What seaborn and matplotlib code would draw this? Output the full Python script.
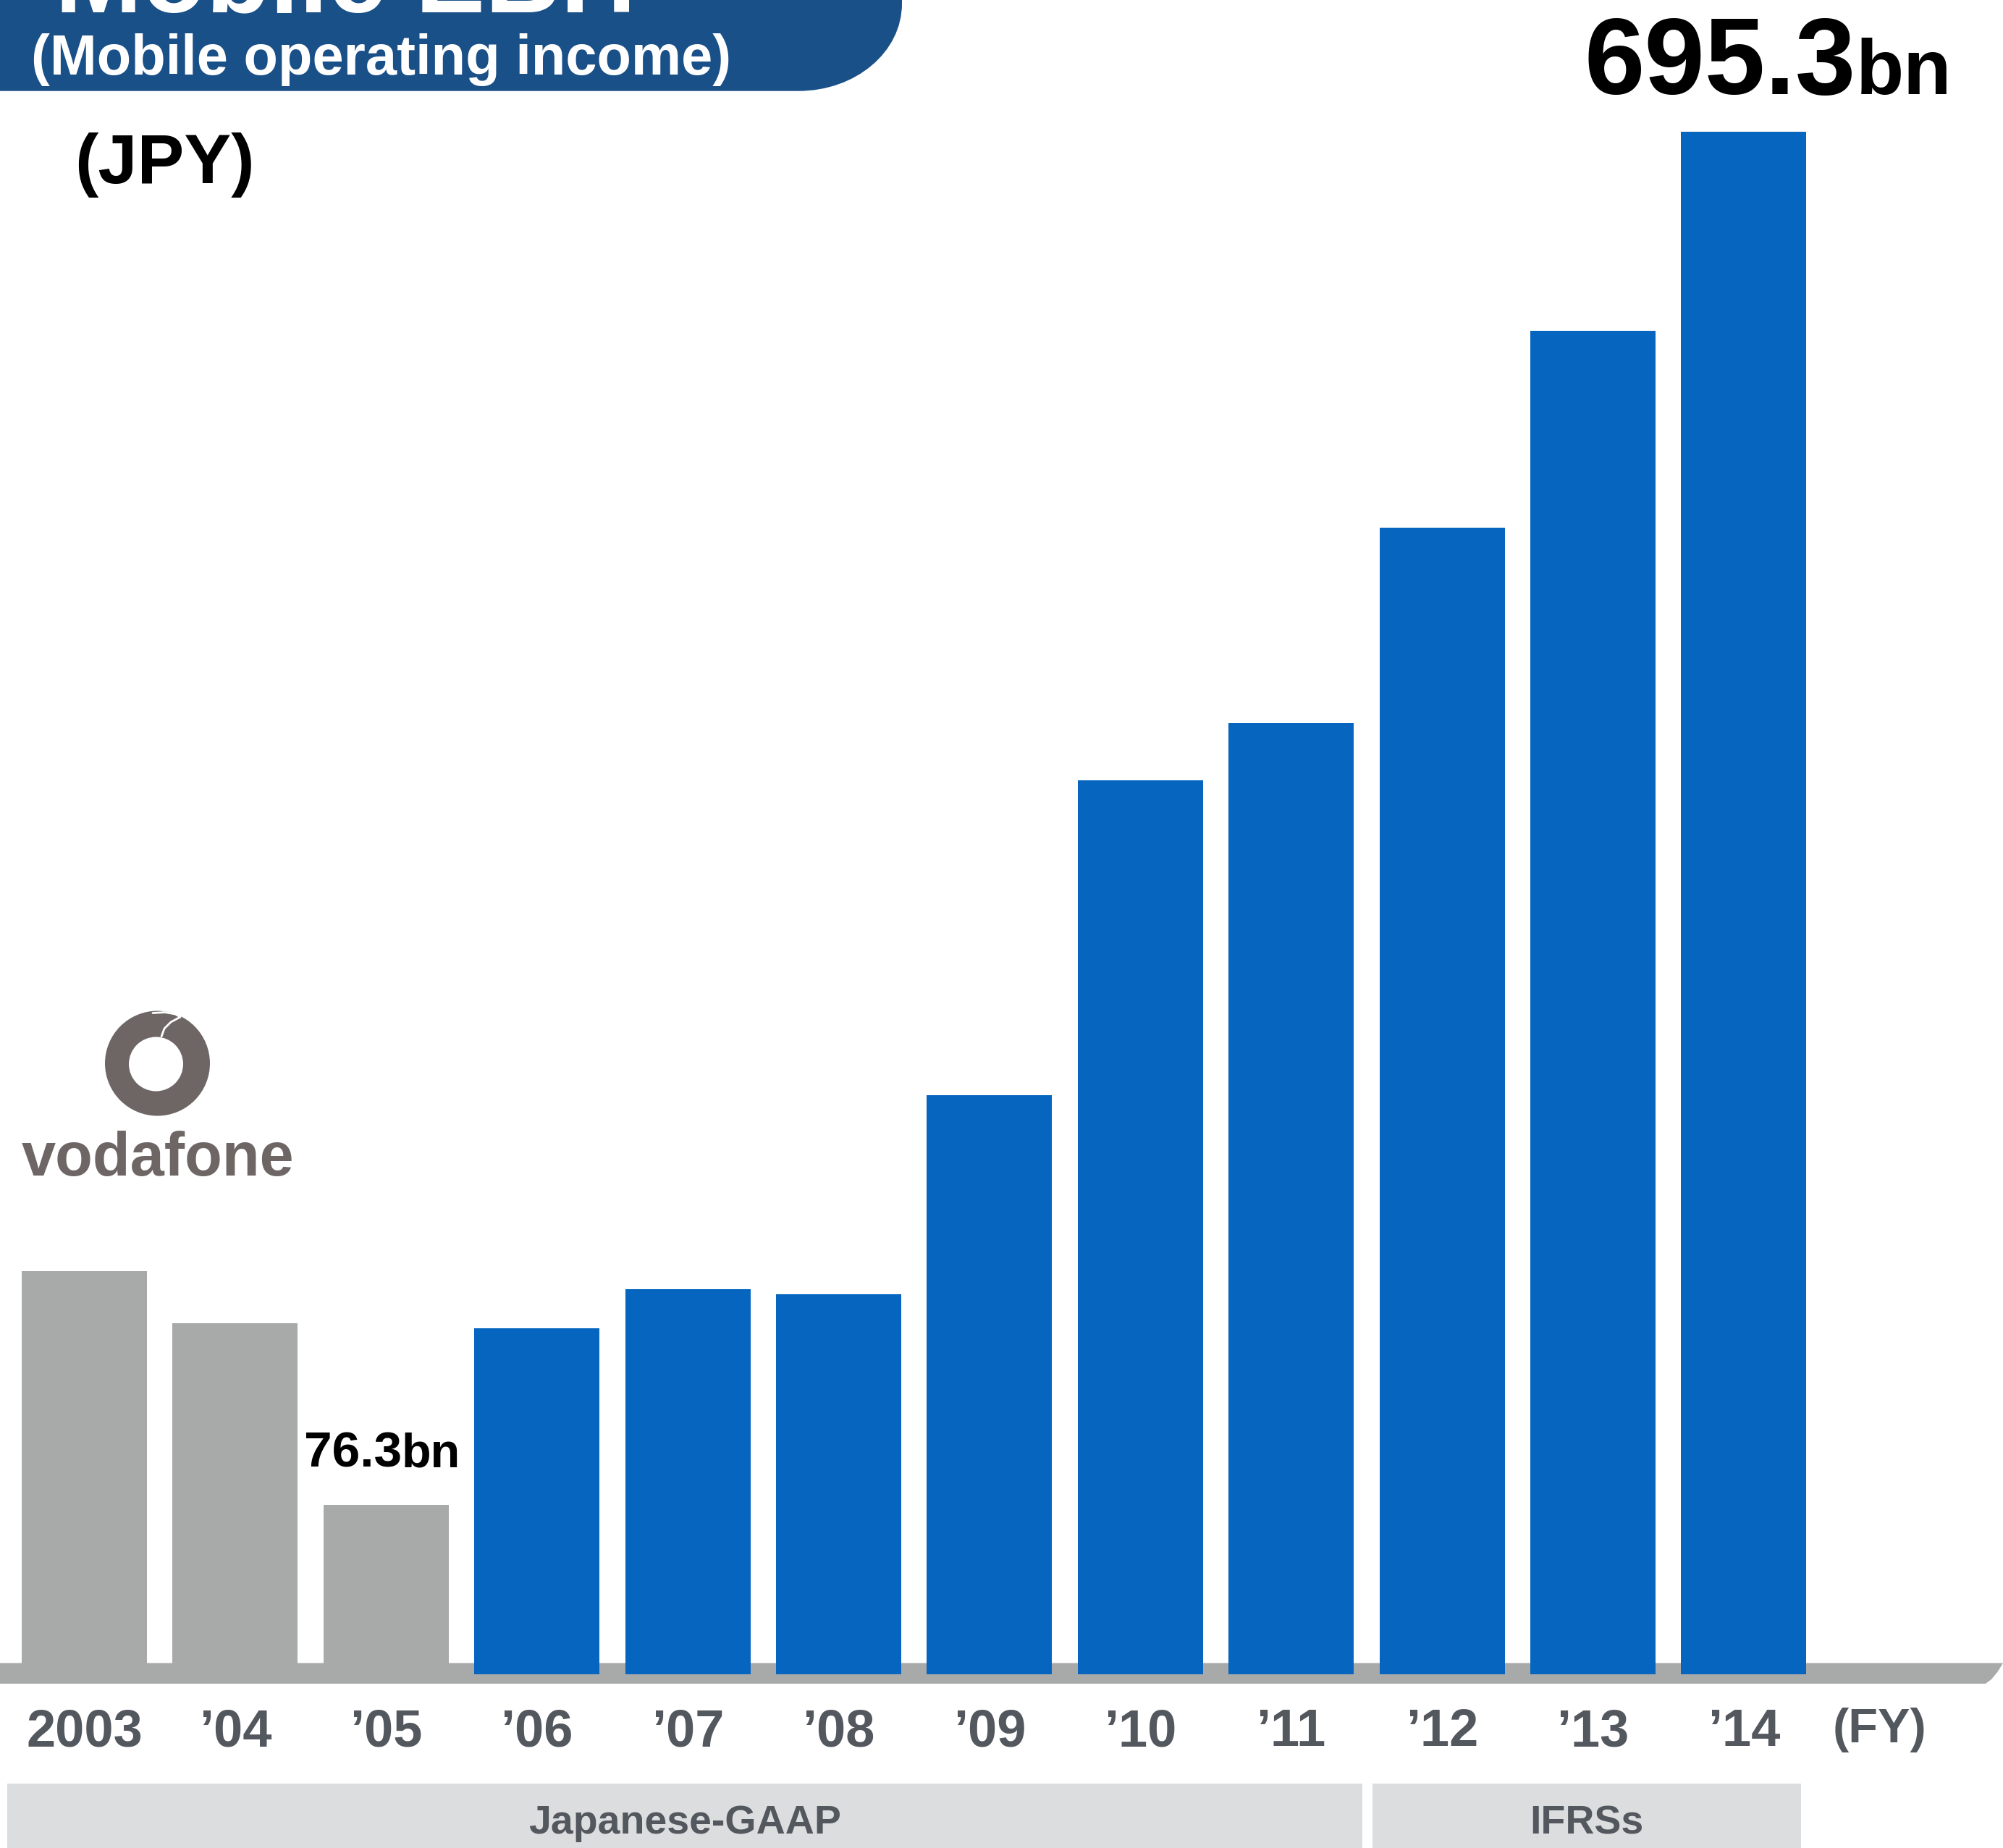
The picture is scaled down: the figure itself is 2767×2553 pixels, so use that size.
import matplotlib
matplotlib.use("Agg")
import matplotlib.pyplot as plt
import seaborn as sns
import pandas as pd
from matplotlib.patches import Rectangle, Circle, Polygon, PathPatch
from matplotlib.path import Path
from matplotlib.transforms import Affine2D

# ---------------- data ----------------
years = ["2003", "\u201904", "\u201905", "\u201906", "\u201907", "\u201908",
         "\u201909", "\u201910", "\u201911", "\u201912", "\u201913", "\u201914"]
income_bn = [181.7, 158.1, 76.3, 155.8, 173.6, 171.3,
             261.1, 402.8, 428.7, 516.8, 605.5, 695.3]
operator = ["Vodafone"] * 3 + ["SoftBank"] * 9
standards = ["Japanese-GAAP", "IFRSs"]
callouts = {"\u201905": ("76.3", "bn"), "\u201914": ("695.3", "bn")}

GRAY = "#A7AAA9"
BLUE = "#0565BF"
NAVY = "#1A5088"
TXT = "#53575E"
BOX = "#DCDDDF"
LOGO = "#6D6664"

sns.set_theme(style="white")
plt.rcParams["font.family"] = ["Liberation Sans", "DejaVu Sans"]
plt.rcParams["font.weight"] = "bold"

W, H = 2767, 2553
fig = plt.figure(figsize=(W / 100, H / 100), dpi=100)
fig.patch.set_facecolor("white")

ax_bottom = 1 - 2326 / H
ax = fig.add_axes([0, ax_bottom, 1, 1 - ax_bottom])
ax.set_facecolor("none")

df = pd.DataFrame({"year": years, "income": income_bn, "operator": operator})
sns.barplot(data=df, x="year", y="income", hue="operator",
            palette={"Vodafone": GRAY, "SoftBank": BLUE},
            width=0.83, saturation=1, dodge=False, legend=False,
            linewidth=0, edgecolor="none", ax=ax, zorder=3)

ax.set_xlim(-0.559, 12.718)
ax.set_ylim(-4.32, 754.6)
for s in ax.spines.values():
    s.set_visible(False)
ax.set_yticks([])
ax.set_xlabel("")
ax.set_ylabel("")
ax.set_xticks(list(range(len(years))) + [11.9])
ax.set_xticklabels(years + ["(FY)"])
ax.tick_params(axis="x", length=0, pad=24, labelsize=52, labelcolor=TXT)
for lab in ax.get_xticklabels():
    lab.set_fontweight("bold")
ax.get_xticklabels()[-1].set_fontsize(48)

# pixel transform (origin top-left, y down)
px = Affine2D().scale(1 / W, -1 / H).translate(0, 1) + fig.transFigure

# baseline band
band = Polygon([(0, 2297.5), (2767, 2297.5), (2760, 2309), (2751, 2320),
                (2743, 2326), (0, 2326)], closed=True, facecolor=GRAY,
               edgecolor="none", transform=px, clip_on=False, zorder=2)
ax.add_patch(band)

# value callouts
for i, yr in enumerate(years):
    if yr in callouts:
        num, unit = callouts[yr]
        v = income_bn[i]
        if v > 500:
            sx, big, small = i + 0.745, 108, 78
        else:
            sx, big, small = i + 0.104, 50, 48
        ax.text(sx, v + 17, num, ha="right", va="baseline", fontsize=big,
                fontweight="bold", color="black", zorder=5)
        ax.text(sx, v + 17, unit, ha="left", va="baseline", fontsize=small,
                fontweight="bold", color="black", zorder=5)

# title banner
verts = [(-10, -20), (1246, -20), (1246, 5), (1246, 72), (1182, 125.7),
         (1103, 125.7), (-10, 125.7), (-10, -20)]
codes = [Path.MOVETO, Path.LINETO, Path.LINETO, Path.CURVE4, Path.CURVE4,
         Path.CURVE4, Path.LINETO, Path.CLOSEPOLY]
ax.add_patch(PathPatch(Path(verts, codes), facecolor=NAVY, edgecolor="none",
                       transform=px, clip_on=False, zorder=6))
ax.text(76, 16, "Mobile EBIT", transform=px, fontsize=104, fontweight="bold",
        color="white", ha="left", va="baseline", zorder=7)
ax.text(43, 103, "(Mobile operating income)", transform=px, fontsize=56,
        fontweight="bold", color="white", ha="left", va="baseline", zorder=7)
ax.text(103, 253, "(JPY)", transform=px, fontsize=70, fontweight="bold",
        color="black", ha="left", va="baseline", zorder=7)

# vodafone logo
ax.add_patch(Circle((217.5, 1469), 72.5, facecolor=LOGO, edgecolor="none",
                    transform=px, clip_on=False, zorder=6))
ax.add_patch(Circle((215.5, 1470), 37.5, facecolor="white", edgecolor="none",
                    transform=px, clip_on=False, zorder=7))
ax.plot([211, 228, 242, 249], [1399.5, 1398.5, 1401, 1405], color="white",
        lw=2.0, transform=px, clip_on=False, zorder=8, solid_capstyle="round")
ax.plot([249, 236, 227, 223], [1405, 1412, 1421, 1432], color="white",
        lw=2.0, transform=px, clip_on=False, zorder=8, solid_capstyle="round")
ax.text(30, 1624, "vodafone", transform=px, fontsize=61, fontweight="bold",
        color=LOGO, ha="left", va="baseline", zorder=7)

# accounting standard boxes
boxes = [(9.6, 1882), (1896, 2488)]
for (x0, x1), name in zip(boxes, standards):
    ax.add_patch(Rectangle((x0, 2464), x1 - x0, 120, facecolor=BOX,
                           edgecolor="none", transform=px, clip_on=False,
                           zorder=6))
    ax.text((x0 + x1) / 2, 2533, name, transform=px, fontsize=40,
            fontweight="bold", color=TXT, ha="center", va="baseline",
            zorder=7)

fig.savefig("out.png", dpi=100, facecolor="white")
